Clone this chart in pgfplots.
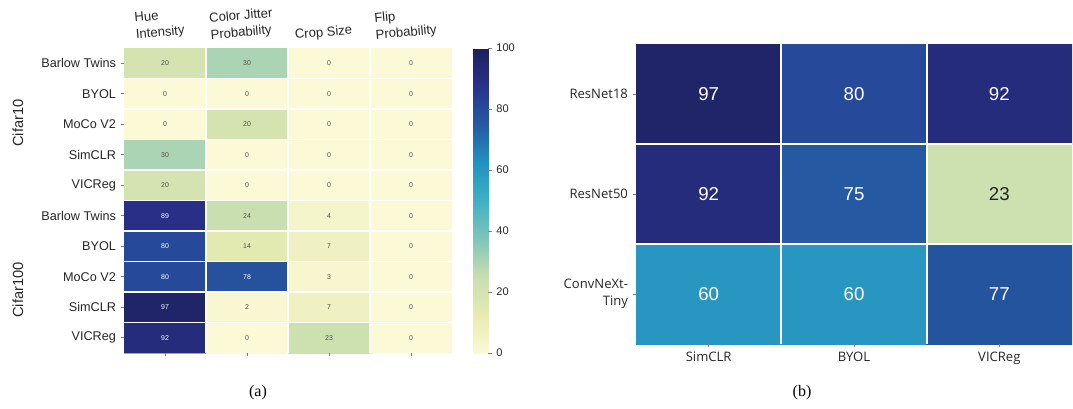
\documentclass[border=0pt]{standalone}
\usepackage{pgfplots}
\usepackage{pgfplotstable}
\pgfplotsset{compat=1.18}
\usepackage{fontspec}
\setmainfont{Liberation Sans}
\newfontfamily\serifcap{Liberation Serif}
\newfontfamily\plexlike{Open Sans}

% YlGnBu-style colour scale (slightly muted)
\pgfplotsset{colormap={YlGnBu}{rgb255=(252,249,215) rgb255=(230,235,177) rgb255=(200,222,176)
  rgb255=(127,197,185) rgb255=(62,176,196) rgb255=(33,145,194) rgb255=(37,90,162)
  rgb255=(40,50,140) rgb255=(30,32,92)}}
\definecolor{labelgray}{HTML}{262626}
\definecolor{tickgray}{HTML}{808080}

% (a) augmentation strengths: column x, row y, value v
\pgfplotstableread{
x y v
0 0 20
1 0 30
2 0 0
3 0 0
0 1 0
1 1 0
2 1 0
3 1 0
0 2 0
1 2 20
2 2 0
3 2 0
0 3 30
1 3 0
2 3 0
3 3 0
0 4 20
1 4 0
2 4 0
3 4 0
0 5 89
1 5 24
2 5 4
3 5 0
0 6 80
1 6 14
2 6 7
3 6 0
0 7 80
1 7 78
2 7 3
3 7 0
0 8 97
1 8 2
2 8 7
3 8 0
0 9 92
1 9 0
2 9 23
3 9 0
}\cellsA

% (b) backbone versus method
\pgfplotstableread{
x y v
0 0 97
1 0 80
2 0 92
0 1 92
1 1 75
2 1 23
0 2 60
1 2 60
2 2 77
}\cellsB

% cell value printed in white on dark cells (meta above 50 of 100)
\newcommand{\cellvalue}{%
  \ifdim\pgfplotspointmetatransformed pt>500pt\relax\color{white}\fi
  \pgfmathprintnumber{\pgfplotspointmeta}}

\pgfplotsset{
  heat/.style={
    scale only axis,
    y dir=reverse,
    colormap name=YlGnBu,
    point meta min=0, point meta max=100,
    axis line style={draw=none},
    tick align=outside,
    major tick length=2.5pt,
    minor tick length=0pt,
    tick style={tickgray, line width=0.5pt},
    xminorgrids, yminorgrids,
    minor grid style={white, line width=1.3pt},
    axis on top,
    /pgf/number format/assume math mode=true,
  },
}

\begin{document}
\begin{tikzpicture}
\useasboundingbox (0,0) rectangle (804.75pt,306pt);

% ---------- (a) ----------
\begin{axis}[heat,
  at={(93pt,270pt)}, anchor=north west,
  width=246pt, height=228.75pt,
  xmin=-0.5, xmax=3.5, ymin=-0.5, ymax=9.5,
  xtick={0,1,2,3}, ytick={0,...,9},
  minor xtick={0.5,1.5,2.5}, minor ytick={0.5,1.5,...,8.5},
  xtick pos=bottom, xticklabel pos=top,
  ytick pos=left,
  xticklabels={{Hue\\Intensity},{Color Jitter\\Probability},{Crop Size},{Flip\\Probability}},
  yticklabels={Barlow Twins,BYOL,MoCo V2,SimCLR,VICReg,Barlow Twins,BYOL,MoCo V2,SimCLR,VICReg},
  xticklabel style={rotate=5, align=left, font=\fontsize{9.8}{12.5}\selectfont, text=labelgray, xshift=-4pt, yshift=1pt},
  yticklabel style={font=\fontsize{9.5}{11}\selectfont, text=labelgray},
  colorbar right,
  colorbar style={
    at={(parent axis.north east)}, anchor=north west, xshift=7.5pt,
    width=11.25pt, height=228.75pt,
    ytick={0,20,...,100},
    ytick pos=right, yticklabel pos=right,
    axis line style={draw=none},
    tick align=outside, major tick length=2.5pt,
    tick style={tickgray, line width=0.5pt},
    yticklabel style={font=\fontsize{8.3}{10}\selectfont, text=labelgray},
    /pgf/number format/assume math mode=true,
  },
]
\addplot[matrix plot*, mesh/cols=4, point meta=explicit,
  nodes near coords={\color{black!70}\cellvalue},
  every node near coord/.append style={anchor=center, font=\fontsize{5.2}{6}\selectfont},
] table[x=x, y=y, meta=v] {\cellsA};
\end{axis}

\node[rotate=90, font=\fontsize{11}{13}\selectfont, text=labelgray] at (13.5pt,213.75pt) {Cifar10};
\node[rotate=90, font=\fontsize{11}{13}\selectfont, text=labelgray] at (13.5pt,88.5pt) {Cifar100};

% ---------- (b) ----------
\begin{axis}[heat,
  at={(477pt,273pt)}, anchor=north west,
  width=327pt, height=225pt,
  xmin=-0.5, xmax=2.5, ymin=-0.5, ymax=2.5,
  xtick={0,1,2}, ytick={0,1,2},
  minor xtick={0.5,1.5}, minor ytick={0.5,1.5},
  xtick pos=bottom, ytick pos=left,
  xticklabels={SimCLR,BYOL,VICReg},
  yticklabels={ResNet18,ResNet50,{ConvNeXt-\\Tiny}},
  xticklabel style={font=\plexlike\fontsize{9.8}{11}\selectfont, text=labelgray},
  yticklabel style={font=\plexlike\fontsize{9.8}{13}\selectfont, text=labelgray, align=right},
]
\addplot[matrix plot*, mesh/cols=3, point meta=explicit,
  nodes near coords={\color{labelgray}\cellvalue},
  every node near coord/.append style={anchor=center, font=\fontsize{14}{16}\selectfont},
] table[x=x, y=y, meta=v] {\cellsB};
\end{axis}

\node[font=\serifcap\fontsize{12}{14}\selectfont] at (193.5pt,11.25pt) {(a)};
\node[font=\serifcap\fontsize{12}{14}\selectfont] at (601.5pt,11.25pt) {(b)};
\end{tikzpicture}
\end{document}
